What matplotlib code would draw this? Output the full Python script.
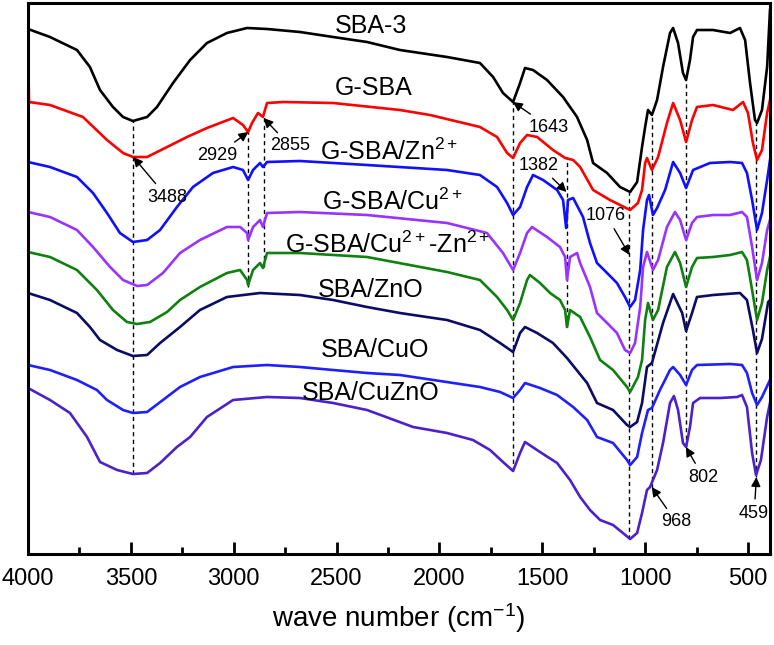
import numpy as np
import matplotlib
matplotlib.use('Agg')
import matplotlib.pyplot as plt
from matplotlib.ticker import MultipleLocator

plt.rcParams['font.family'] = ['Liberation Sans', 'DejaVu Sans']
plt.rcParams['mathtext.fontset'] = 'custom'
plt.rcParams['mathtext.rm'] = 'Liberation Sans'
plt.rcParams['mathtext.it'] = 'Liberation Sans:italic'

# FTIR spectra (wave number in cm-1, offset transmittance in a.u.)
sba3_x = [4000, 3893, 3762, 3699, 3650, 3587, 3538, 3490, 3421, 3373, 3295, 3212, 3130, 3033, 2935,
          2838, 2678, 2517, 2352, 2192, 1963, 1803, 1739, 1691, 1642, 1608, 1584, 1545, 1477, 1399,
          1331, 1282, 1253, 1185, 1122, 1073, 1039, 1015, 1000, 986, 967, 942, 913, 879, 864, 840,
          816, 801, 782, 767, 748, 670, 587, 539, 514, 490, 466, 456, 432, 407, 393]
sba3_y = [525, 517, 504, 487, 464, 447, 437, 433, 437, 447, 471, 494, 511, 521, 526,
          525, 522, 517, 512, 504, 497, 491, 477, 461, 452, 471, 486, 484, 474, 457,
          437, 414, 391, 381, 367, 362, 372, 407, 427, 444, 439, 454, 487, 521, 526, 511,
          481, 474, 494, 517, 524, 524, 521, 526, 514, 471, 434, 431, 444, 487, 544]

gsba_x = [4000, 3995, 3893, 3733, 3616, 3538, 3490, 3421, 3324, 3227, 3130, 3003, 2955, 2930, 2911,
          2882, 2858, 2838, 2760, 2517, 2192, 2046, 1803, 1720, 1671, 1642, 1608, 1574, 1525, 1448,
          1389, 1350, 1316, 1253, 1171, 1122, 1073, 1035, 1015, 1000, 991, 967, 937, 894, 864, 830,
          801, 772, 748, 670, 573, 524, 500, 476, 456, 432, 407, 393]
gsba_y = [506, 452, 449, 437, 414, 401, 397, 397, 407, 417, 426, 436, 429, 422, 431,
          441, 437, 451, 452, 451, 444, 439, 427, 417, 401, 396, 411, 419, 417, 404,
          396, 394, 387, 364, 354, 349, 344, 351, 364, 391, 396, 384, 397, 431, 451, 434,
          412, 434, 447, 449, 444, 452, 441, 411, 394, 404, 441, 454]

gzn_x = [4000, 3893, 3762, 3684, 3616, 3553, 3490, 3421, 3358, 3276, 3198, 3101, 3003, 2955, 2930,
         2906, 2872, 2858, 2838, 2678, 2352, 1963, 1803, 1720, 1671, 1642, 1608, 1574, 1545, 1496,
         1428, 1399, 1384, 1375, 1350, 1302, 1268, 1234, 1185, 1137, 1098, 1073, 1049, 1024, 1010,
         991, 981, 962, 942, 903, 864, 830, 801, 767, 685, 587, 529, 505, 480, 456, 432, 407, 393]
gzn_y = [392, 387, 377, 361, 341, 321, 312, 314, 324, 347, 367, 381, 387, 384, 374,
         384, 391, 387, 392, 393, 389, 384, 379, 367, 351, 339, 347, 367, 379, 374,
         364, 354, 326, 354, 356, 337, 311, 291, 281, 271, 257, 247, 254, 284, 324,
         354, 359, 339, 346, 364, 392, 381, 366, 384, 391, 392, 391, 381, 354, 324, 341, 374, 394]

gcu_x = [4000, 3893, 3762, 3684, 3601, 3538, 3470, 3421, 3344, 3261, 3164, 3033, 2969, 2935, 2930,
         2906, 2872, 2858, 2838, 2678, 2352, 1963, 1769, 1691, 1642, 1608, 1574, 1550, 1477, 1414,
         1389, 1380, 1365, 1331, 1316, 1268, 1234, 1185, 1137, 1098, 1073, 1049, 1024, 1010, 991,
         962, 937, 894, 855, 830, 801, 772, 748, 670, 587, 529, 505, 480, 456, 432, 407, 393]
gcu_y = [342, 337, 324, 307, 287, 274, 268, 269, 281, 301, 314, 327, 327, 321, 314,
         327, 334, 327, 341, 342, 339, 331, 321, 301, 284, 301, 321, 327, 317, 307,
         297, 274, 297, 301, 291, 267, 241, 231, 221, 204, 201, 211, 247, 287, 302,
         284, 294, 327, 342, 334, 314, 331, 337, 339, 339, 342, 337, 307, 274, 291, 324, 334]

gcuzn_x = [4000, 3893, 3762, 3665, 3587, 3519, 3470, 3407, 3324, 3261, 3164, 3033, 2969, 2935, 2930,
           2906, 2872, 2858, 2838, 2678, 2352, 1963, 1803, 1720, 1671, 1642, 1608, 1574, 1560, 1511,
           1462, 1414, 1389, 1380, 1365, 1316, 1268, 1219, 1156, 1088, 1073, 1035, 1015, 1000, 986,
           962, 937, 894, 855, 830, 801, 772, 748, 670, 587, 529, 505, 480, 456, 432, 407, 393]
gcuzn_y = [302, 297, 284, 264, 244, 232, 230, 232, 242, 254, 267, 281, 284, 274, 269,
           284, 291, 286, 301, 301, 297, 282, 274, 257, 244, 234, 251, 274, 279, 271,
           261, 254, 244, 227, 244, 237, 217, 194, 184, 167, 162, 177, 194, 234, 251,
           234, 244, 287, 302, 291, 267, 287, 296, 297, 299, 302, 294, 264, 234, 251, 284, 297]

zno_x = [4000, 3893, 3762, 3699, 3650, 3567, 3490, 3421, 3358, 3261, 3164, 3033, 2872, 2678, 2517,
         2352, 2192, 1963, 1803, 1705, 1642, 1608, 1584, 1525, 1448, 1380, 1282, 1234, 1156, 1088,
         1073, 1039, 1015, 991, 967, 913, 864, 820, 801, 772, 748, 670, 539, 505, 476, 456, 432,
         402, 393]
zno_y = [261, 254, 241, 227, 214, 204, 198, 199, 211, 227, 244, 257, 261, 259, 254,
         247, 241, 234, 224, 211, 202, 221, 227, 221, 211, 196, 171, 151, 144, 129,
         127, 132, 151, 187, 191, 231, 260, 241, 223, 241, 257, 259, 261, 254, 224, 201, 215,
         252, 254]

cuo_x = [4000, 3893, 3762, 3665, 3616, 3538, 3490, 3421, 3344, 3261, 3164, 3003, 2838, 2678, 2517,
         2352, 2192, 1803, 1705, 1642, 1608, 1584, 1511, 1428, 1350, 1282, 1234, 1156, 1088, 1073,
         1039, 1015, 986, 967, 928, 879, 864, 830, 801, 772, 748, 587, 529, 505, 480, 456, 432, 393]
cuo_y = [189, 184, 174, 164, 154, 144, 141, 142, 154, 167, 177, 187, 189, 187, 184,
         181, 179, 167, 162, 156, 164, 171, 166, 159, 147, 134, 117, 111, 94, 89,
         97, 121, 144, 146, 164, 184, 187, 179, 169, 184, 189, 190, 189, 181, 161, 149, 157, 174]

cuzno_x = [4000, 3893, 3796, 3713, 3650, 3567, 3490, 3421, 3358, 3276, 3212, 3130, 3003, 2838, 2678,
           2517, 2352, 2128, 1963, 1837, 1754, 1691, 1642, 1608, 1584, 1511, 1428, 1365, 1316, 1268,
           1219, 1156, 1108, 1073, 1039, 1015, 991, 976, 942, 913, 879, 860, 840, 816, 801, 782,
           767, 733, 636, 553, 529, 505, 480, 461, 437, 407, 393]
cuzno_y = [166, 154, 141, 117, 92, 84, 80, 81, 91, 107, 117, 137, 154, 157, 156,
           151, 144, 127, 121, 114, 104, 92, 83, 101, 112, 102, 91, 74, 57, 44,
           34, 29, 21, 15, 21, 41, 64, 67, 84, 111, 151, 158, 144, 111, 107, 127,
           151, 156, 156, 157, 159, 147, 101, 79, 94, 137, 151]

series = [
    (sba3_x, sba3_y, '#000000'),
    (gsba_x, gsba_y, '#ff0000'),
    (gzn_x, gzn_y, '#1010ff'),
    (gcu_x, gcu_y, '#9933ff'),
    (gcuzn_x, gcuzn_y, '#108010'),
    (zno_x, zno_y, '#0c0c66'),
    (cuo_x, cuo_y, '#2020ff'),
    (cuzno_x, cuzno_y, '#4a22cc'),
]

labels = ['SBA-3', 'G-SBA', 'G-SBA/Zn$^{2+}$', 'G-SBA/Cu$^{2+}$', 'G-SBA/Cu$^{2+}$-Zn$^{2+}$',
          'SBA/ZnO', 'SBA/CuO', 'SBA/CuZnO']
label_x = [2508, 2508, 2581, 2571, 2751, 2590, 2576, 2668]
label_y = [521, 459, 394, 344, 301, 257, 197, 154]

# marked bands: position, dashed line extent, arrow tip, text position
peaks = [3488, 2929, 2855, 1643, 1382, 1076, 968, 802, 459]
line_lo = [80, 267, 287, 83, 227, 15, 66, 107, 77]
line_hi = [433, 427, 437, 452, 397, 362, 439, 474, 431]
tip_y = [397, 422, 436, 452, 362, 299, 67, 107, 77]
text_x = [3325, 3081, 2726, 1467, 1516, 1190, 850, 718, 470]
text_y = [357, 399, 408, 427, 389, 339, 32, 77, 41]

fig = plt.figure(figsize=(7.74, 6.45), dpi=100)
ax = fig.add_axes([28/774, 91/645, 742/774, 551/645])

for p, lo, hi in zip(peaks, line_lo, line_hi):
    ax.plot([p, p], [lo, hi], color='black', lw=1.0, ls=(0, (3, 2.5)), zorder=1)

for x, y, c in series:
    ax.plot(x, y, color=c, lw=1.9, zorder=2, solid_joinstyle='round')

for lab, lx, ly in zip(labels, label_x, label_y):
    ax.text(lx, ly, lab, fontsize=18, ha='left', va='baseline', zorder=3)

for p, ty, tx, tyy in zip(peaks, tip_y, text_x, text_y):
    ax.annotate(str(p), xy=(p, ty), xytext=(tx, tyy), fontsize=13, ha='center', va='center',
                arrowprops=dict(arrowstyle='-|>', color='black', lw=1.0, mutation_scale=14,
                                shrinkA=2, shrinkB=0), zorder=4)

ax.set_xlim(4000, 393)
ax.set_ylim(0, 551)
ax.set_yticks([])
ax.xaxis.set_major_locator(MultipleLocator(500))
ax.xaxis.set_minor_locator(MultipleLocator(250))
ax.tick_params(axis='x', which='major', direction='in', length=9, width=2, labelsize=17, pad=10)
ax.tick_params(axis='x', which='minor', direction='in', length=5, width=2)
for s in ax.spines.values():
    s.set_linewidth(2.2)
ax.set_xlabel('wave number (cm$^{-1}$)', fontsize=20, labelpad=8)

fig.savefig('out.png', dpi=100)
